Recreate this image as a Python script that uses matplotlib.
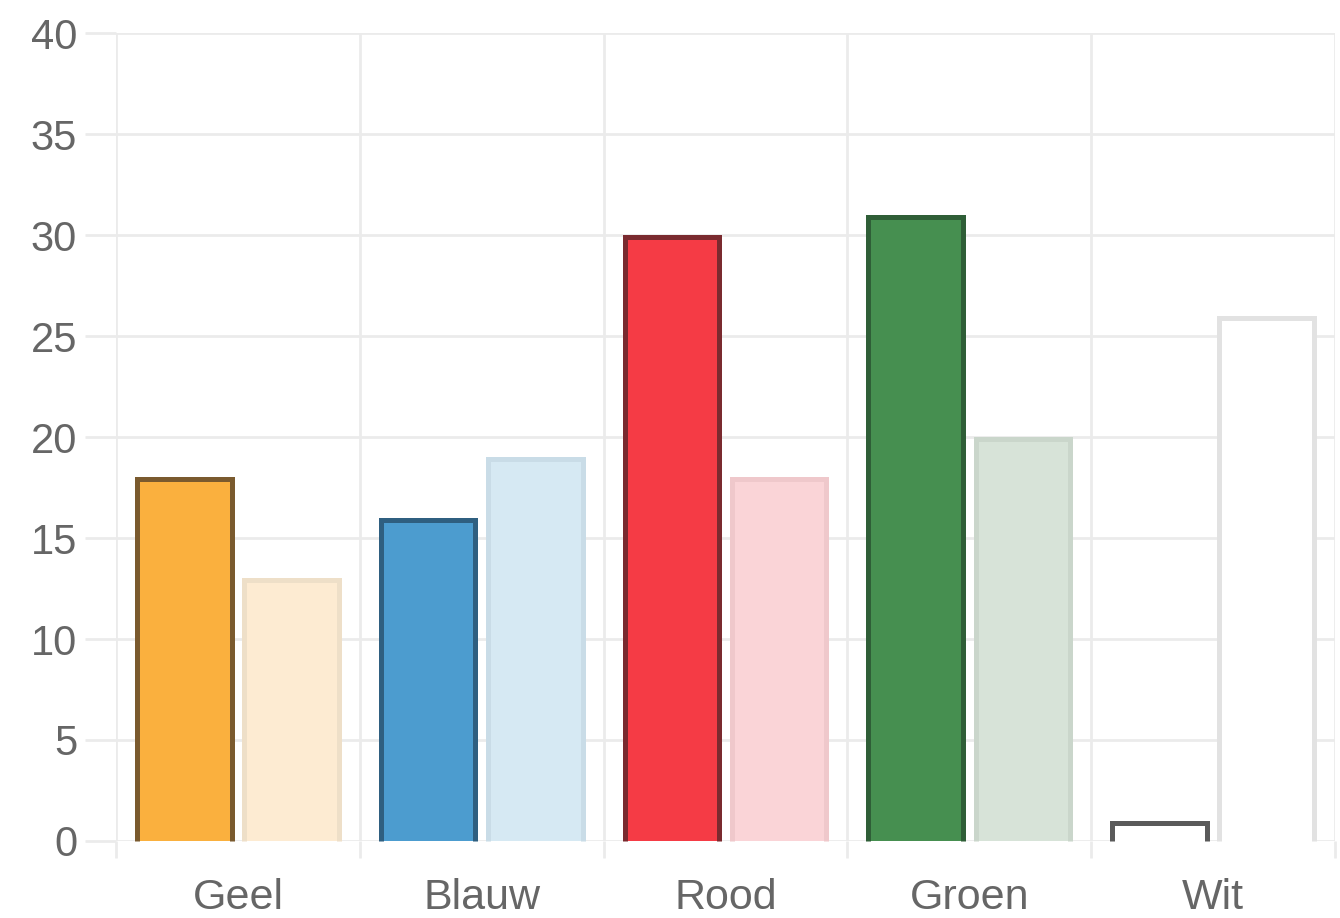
import matplotlib
matplotlib.use("Agg")
import matplotlib.pyplot as plt
import numpy as np

categories = ["Geel", "Blauw", "Rood", "Groen", "Wit"]
series_a = [18, 16, 30, 31, 1]
series_b = [13, 19, 18, 20, 26]
yticks = [0, 5, 10, 15, 20, 25, 30, 35, 40]

fill_a = ["#FAB03E", "#4C9CCF", "#F53B45", "#468F50", "#FFFFFF"]
edge_a = ["#7A5A2E", "#2F5F80", "#7A2A2F", "#2F5E37", "#5A5A5A"]
fill_b = ["#FDEBD2", "#D6E9F3", "#FAD4D7", "#D7E3D8", "#FFFFFF"]
edge_b = ["#EEDFC8", "#C9DCE7", "#EFC8CB", "#CAD6CB", "#E2E2E2"]

plt.rcParams['font.family'] = ['Liberation Sans', 'DejaVu Sans']

fig = plt.figure(figsize=(13.4, 9.18), dpi=100)
ax = fig.add_axes([0.0866, 0.0839, 0.9097, 0.880])

x = np.arange(len(categories))
w = 0.40
off = 0.22
lw = 3.6

def draw(xpos, vals, fills, edges):
    ax.bar(xpos, vals, width=w, color=fills, linewidth=0, zorder=2)
    # border on top, left, right (no bottom), inset by half the line width
    inset = 0.006
    for xc, v, ec in zip(xpos, vals, edges):
        x0 = xc - w / 2 + inset
        x1 = xc + w / 2 - inset
        top = v - 0.09
        ax.plot([x0, x0, x1, x1], [0, top, top, 0], color=ec, linewidth=lw,
                solid_joinstyle='miter', solid_capstyle='butt', zorder=3,
                clip_on=False)

draw(x - off, series_a, fill_a, edge_a)
draw(x + off, series_b, fill_b, edge_b)

ax.set_xlim(-0.5, len(categories) - 0.5)
ax.set_ylim(0, 40)
ax.set_yticks(yticks)
ax.set_yticklabels([str(t) for t in yticks])
ax.set_xticks(x)
ax.set_xticklabels(categories)

# grid lines at category boundaries and y ticks
ax.set_xticks(np.arange(-0.5, len(categories) + 0.5, 1), minor=True)
ax.grid(True, which='minor', axis='x', color='#EBEBEB', linewidth=2.0, zorder=0)
ax.grid(True, which='major', axis='y', color='#EBEBEB', linewidth=2.0, zorder=0)
ax.set_axisbelow(True)

for s in ax.spines.values():
    s.set_visible(False)

ax.tick_params(axis='y', which='major', length=22, width=2.0, color='#EBEBEB',
               labelsize=30, labelcolor='#666666', pad=6)
ax.tick_params(axis='x', which='major', length=0, labelsize=31,
               labelcolor='#666666', pad=27)
ax.tick_params(axis='x', which='minor', length=12, width=2.0, color='#EBEBEB')

fig.savefig("out.png", dpi=100, facecolor='white')
